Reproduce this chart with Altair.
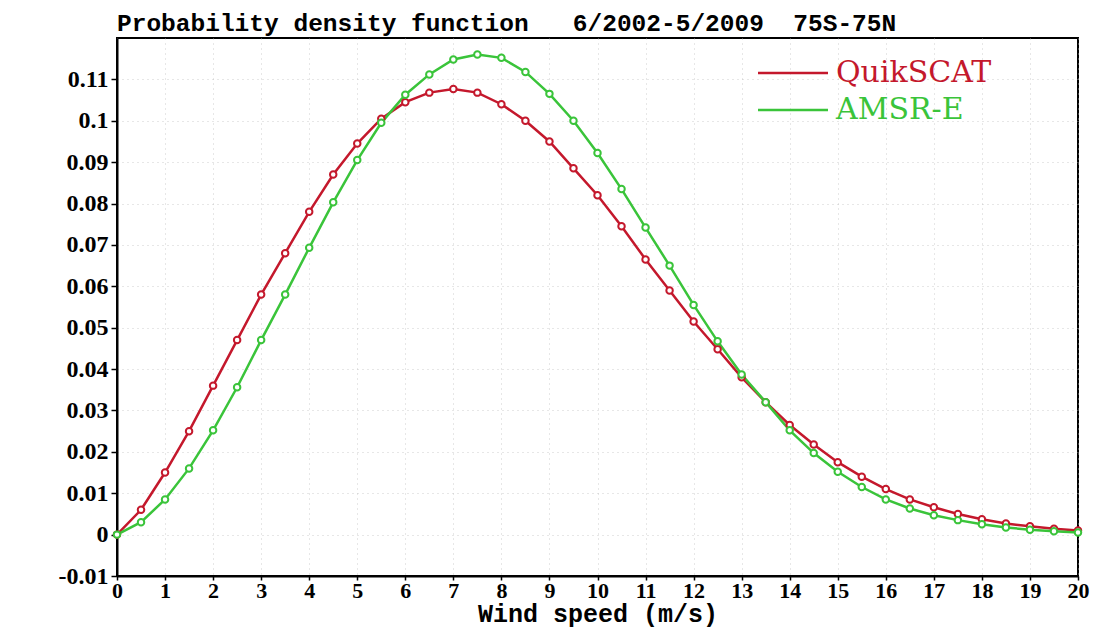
import altair as alt
import pandas as pd

speed = [0, 0.5, 1, 1.5, 2, 2.5, 3, 3.5, 4, 4.5, 5, 5.5, 6, 6.5, 7, 7.5, 8, 8.5, 9, 9.5,
         10, 10.5, 11, 11.5, 12, 12.5, 13, 13.5, 14, 14.5, 15, 15.5, 16, 16.5, 17, 17.5,
         18, 18.5, 19, 19.5, 20]

quikscat = [0.0, 0.006, 0.015, 0.025, 0.036, 0.047, 0.058, 0.068, 0.078, 0.087,
            0.0945, 0.1005, 0.1045, 0.1068, 0.1077, 0.1068, 0.104, 0.1, 0.095, 0.0885,
            0.082, 0.0745, 0.0665, 0.059, 0.0515, 0.0448, 0.038, 0.032, 0.0265, 0.0218,
            0.0175, 0.014, 0.011, 0.0085, 0.0066, 0.005, 0.0037, 0.0027, 0.002, 0.0014, 0.001]

amsre = [0.0, 0.003, 0.0085, 0.016, 0.0252, 0.0356, 0.047, 0.058, 0.0693, 0.0803,
         0.0905, 0.0995, 0.1063, 0.1112, 0.1148, 0.116, 0.1152, 0.1118, 0.1065, 0.1,
         0.0922, 0.0835, 0.0742, 0.065, 0.0555, 0.0467, 0.0387, 0.032, 0.0252, 0.0197,
         0.0152, 0.0115, 0.0085, 0.0063, 0.0047, 0.0035, 0.0025, 0.0017, 0.0012, 0.0008, 0.0005]

series_names = ["QuikSCAT", "AMSR-E"]
series_colors = ["#c4182c", "#3ac43a"]

x_ticks = [0, 1, 2, 3, 4, 5, 6, 7, 8, 9, 10, 11, 12, 13, 14, 15, 16, 17, 18, 19, 20]
y_ticks = [-0.01, 0, 0.01, 0.02, 0.03, 0.04, 0.05, 0.06, 0.07, 0.08, 0.09, 0.1, 0.11]

title_text = "Probability density function\u00a0\u00a0\u00a06/2002-5/2009\u00a0\u00a075S-75N"

rows = []
for s, q, a in zip(speed, quikscat, amsre):
    rows.append({"speed": s, "pdf": q, "series": "QuikSCAT"})
    rows.append({"speed": s, "pdf": a, "series": "AMSR-E"})
df = pd.DataFrame(rows)

color_scale = alt.Scale(domain=series_names, range=series_colors)

x_enc = alt.X("speed:Q",
              scale=alt.Scale(domain=[0, 20], nice=False, zero=False),
              axis=alt.Axis(values=x_ticks, title="Wind speed (m/s)", format="d",
                            titleFont="Liberation Mono", titleFontSize=25,
                            titleFontWeight="bold", titlePadding=0,
                            tickSize=4, labelPadding=0, labelFlush=False,
                            labelOverlap=False, labelFontSize=22))
y_enc = alt.Y("pdf:Q",
              scale=alt.Scale(domain=[-0.01, 0.12], nice=False, zero=False),
              axis=alt.Axis(values=y_ticks, title="", tickSize=6, labelPadding=3,
                            labelFlush=False, labelOverlap=False, labelFontSize=24,
                            labelExpr="datum.value < 0 ? '-' + format(-datum.value, '~g') : format(datum.value, '~g')"))

base = alt.Chart(df).encode(
    x=x_enc, y=y_enc,
    color=alt.Color("series:N", scale=color_scale, legend=None),
    order=alt.Order("speed:Q"),
)

lines = base.mark_line(strokeWidth=2.5)
points = base.mark_point(shape="circle", filled=False, fill="white", size=42,
                         strokeWidth=2, opacity=1)

legend_layers = []
legend_y = [35, 72]
for name, ly in zip(series_names, legend_y):
    ldf = pd.DataFrame({"series": [name]})
    rule = alt.Chart(ldf).mark_rule(strokeWidth=2.5).encode(
        x=alt.value(641), x2=alt.value(711), y=alt.value(ly),
        color=alt.Color("series:N", scale=color_scale, legend=None))
    txt = alt.Chart(ldf).mark_text(align="left", baseline="middle", font="DejaVu Serif",
                                   fontSize=30).encode(
        x=alt.value(719), y=alt.value(ly), text="series:N",
        color=alt.Color("series:N", scale=color_scale, legend=None))
    legend_layers += [rule, txt]

chart = alt.layer(lines, points, *legend_layers).properties(
    width=961, height=538,
    background="white",
    title=alt.TitleParams(title_text,
                          anchor="start", frame="group", font="Liberation Mono",
                          fontSize=24.5, fontWeight="bold", color="black", offset=2),
    autosize=alt.AutoSizeParams(type="none"),
    padding={"left": 109, "top": 30, "right": 12, "bottom": 56},
).configure_view(
    stroke="black", strokeWidth=2
).configure_axis(
    labelFont="Liberation Serif", labelFontWeight="bold", labelColor="black",
    tickColor="black", tickWidth=1.5, domainColor="black", domainWidth=2,
    grid=True, gridColor="#bbbbbb", gridDash=[1, 4], gridWidth=1, gridOpacity=0.7,
    titleColor="black"
)

chart.save("out.html", embed_options={"renderer": "svg", "actions": False})
